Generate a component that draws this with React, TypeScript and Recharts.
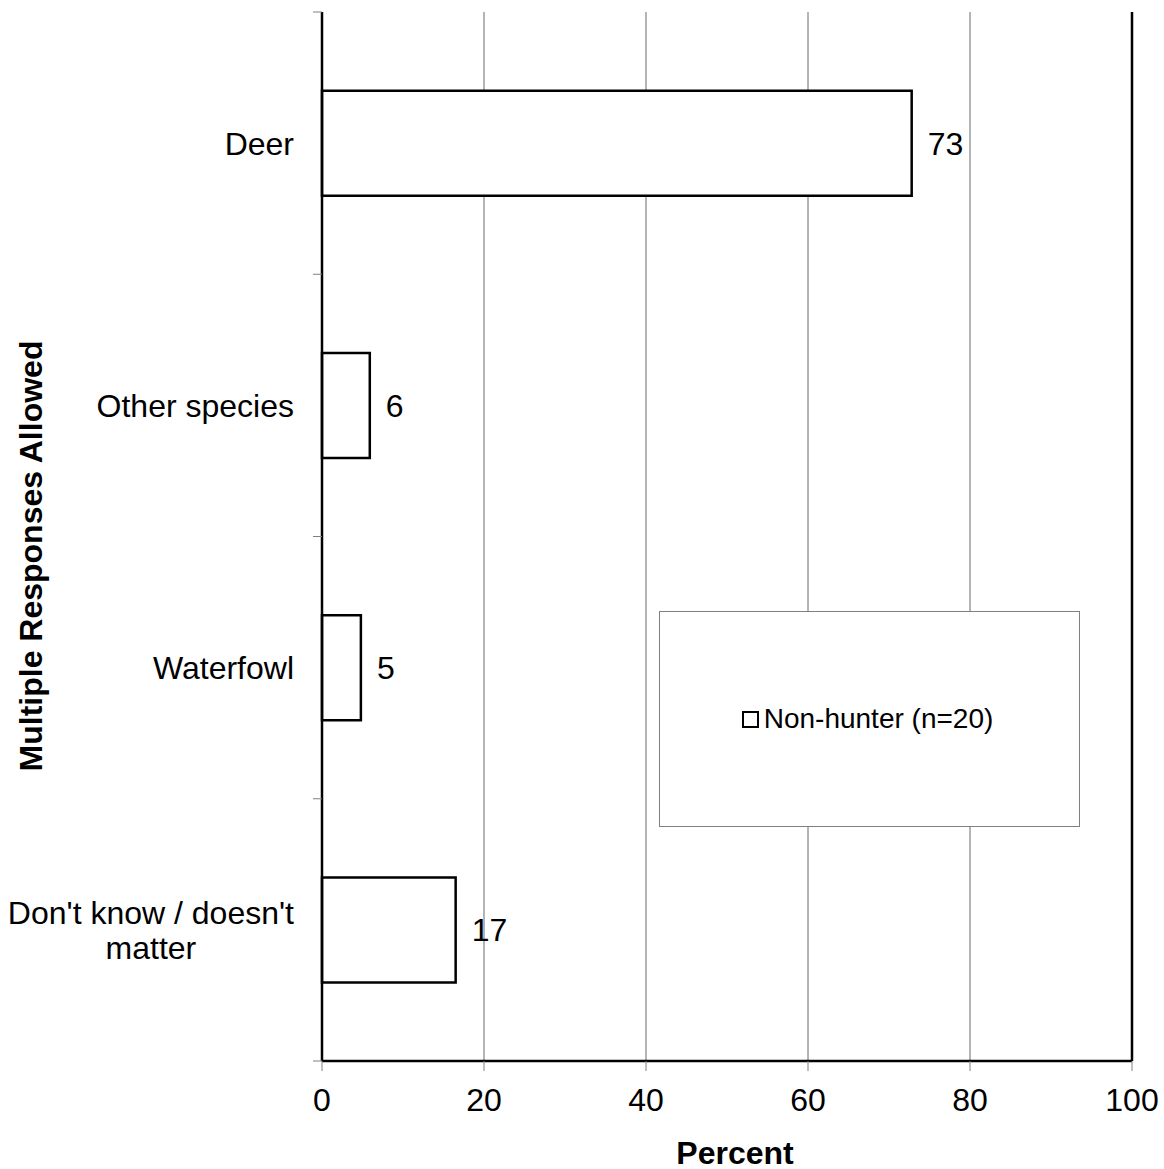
import { BarChart, Bar, XAxis, YAxis, CartesianGrid, Legend, LabelList, ReferenceLine } from 'recharts';

const categories = ['Deer', 'Other species', 'Waterfowl', "Don't know / doesn't matter"];
const nonHunter = [72.8, 5.9, 4.8, 16.5];
const valueLabels = ['73', '6', '5', '17'];
const xTicks = [0, 20, 40, 60, 80, 100];

const data = categories.map((name, i) => ({ name, value: nonHunter[i], label: valueLabels[i] }));

const FONT = '"Liberation Sans", Arial, sans-serif';
const FS = 32;

let measureCtx: CanvasRenderingContext2D | null = null;
function textWidth(s: string, size: number) {
  if (!measureCtx) measureCtx = document.createElement('canvas').getContext('2d');
  if (!measureCtx) return s.length * size * 0.5;
  measureCtx.font = `${size}px ${FONT}`;
  return measureCtx.measureText(s).width;
}

function wrap(s: string, maxChars: number) {
  if (s.length <= maxChars) return [s];
  const cut = s.lastIndexOf(' ', maxChars);
  return [s.slice(0, cut), s.slice(cut + 1)];
}

function CategoryTick(props: any) {
  const { x, y, payload, index, visibleTicksCount } = props;
  const half = payload.offset || 131;
  const lines = wrap(String(payload.value), 22);
  const right = x - 28;
  const maxW = Math.max(...lines.map((l) => textWidth(l, FS)));
  const lineH = 35;
  const last = index === (visibleTicksCount ?? categories.length) - 1;
  return (
    <g>
      <line x1={x - 9} x2={x} y1={y - half} y2={y - half} stroke="#808080" strokeWidth={1} />
      {last && <line x1={x - 9} x2={x} y1={y + half} y2={y + half} stroke="#808080" strokeWidth={1} />}
      {lines.length === 1 ? (
        <text x={right} y={y} dy="0.36em" textAnchor="end" fontSize={FS} fontFamily={FONT} fill="#000">
          {lines[0]}
        </text>
      ) : (
        lines.map((l, i) => (
          <text
            key={i}
            x={right - maxW / 2}
            y={y + (i - (lines.length - 1) / 2) * lineH}
            dy="0.36em"
            textAnchor="middle"
            fontSize={FS}
            fontFamily={FONT}
            fill="#000"
          >
            {l}
          </text>
        ))
      )}
    </g>
  );
}

function LegendBox() {
  return (
    <div
      style={{
        width: 421,
        height: 216,
        boxSizing: 'border-box',
        border: '1.5px solid #808080',
        background: '#fff',
        display: 'flex',
        alignItems: 'center',
        justifyContent: 'center',
        fontFamily: FONT,
        fontSize: 28,
        color: '#000',
        paddingRight: 4,
      }}
    >
      <span
        style={{
          display: 'inline-block',
          width: 13,
          height: 13,
          border: '2px solid #000',
          background: '#fff',
          marginRight: 5,
        }}
      />
      <span>Non-hunter (n=20)</span>
    </div>
  );
}

export default function App() {
  return (
    <div style={{ position: 'absolute', left: 0, top: 0, background: '#fff' }}>
      <BarChart
        width={1164}
        height={1169}
        data={data}
        layout="vertical"
        margin={{ top: 12, right: 32, bottom: 0, left: 0 }}
        barCategoryGap="30%"
      >
        <CartesianGrid horizontal={false} vertical={true} stroke="#6a6a6a" strokeWidth={1} />
        <XAxis
          type="number"
          domain={[0, 100]}
          ticks={xTicks}
          height={108}
          axisLine={{ stroke: '#000', strokeWidth: 2.5 }}
          tickLine={{ stroke: '#808080', strokeWidth: 1 }}
          tickSize={10}
          tickMargin={17}
          tick={{ fontSize: FS, fontFamily: FONT, fill: '#000' }}
          label={{
            content: () => (
              <text x={735} y={1152} dy="0.36em" textAnchor="middle" fontSize={FS} fontWeight="bold" fontFamily={FONT} fill="#000">
                Percent
              </text>
            ),
          }}
        />
        <XAxis
          xAxisId="top"
          orientation="top"
          type="number"
          domain={[0, 100]}
          height={0}
          tick={false}
          tickLine={false}
          axisLine={{ stroke: '#000', strokeWidth: 2.5 }}
        />
        <YAxis
          type="category"
          dataKey="name"
          width={322}
          axisLine={{ stroke: '#000', strokeWidth: 2.5 }}
          tickLine={false}
          tickSize={0}
          tickMargin={0}
          tick={<CategoryTick />}
          interval={0}
          label={{
            content: () => (
              <text
                x={30}
                y={556}
                dy="0.36em"
                textAnchor="middle"
                fontSize={FS}
                fontWeight="bold"
                fontFamily={FONT}
                fill="#000"
                transform="rotate(-90 30 556)"
              >
                Multiple Responses Allowed
              </text>
            ),
          }}
        />
        <ReferenceLine x={100} stroke="#000" strokeWidth={2.5} />
        <Legend
          layout="horizontal"
          verticalAlign="middle"
          align="center"
          content={() => <LegendBox />}
          wrapperStyle={{ position: 'absolute', left: 659, top: 611, width: 421, height: 216 }}
        />
        <Bar dataKey="value" name="Non-hunter (n=20)" fill="#fff" stroke="#000" strokeWidth={2.5} isAnimationActive={false}>
          <LabelList dataKey="label" position="right" offset={16} fontSize={FS} fontFamily={FONT} fill="#000" />
        </Bar>
      </BarChart>
    </div>
  );
}
